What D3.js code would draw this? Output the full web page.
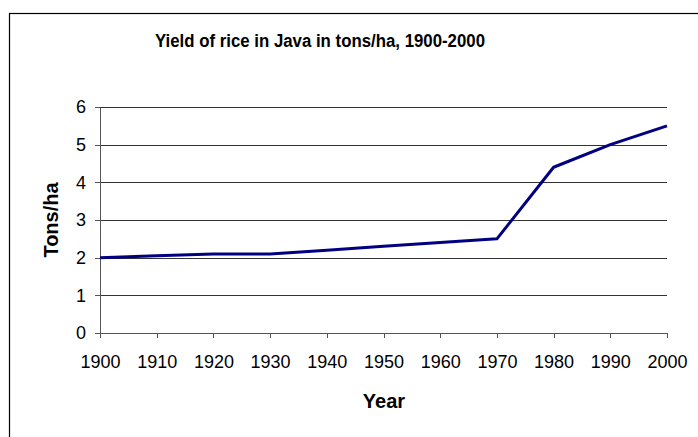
<!DOCTYPE html>
<html>
<head>
<meta charset="utf-8">
<script src="https://cdn.jsdelivr.net/npm/d3@7"></script>
<style>
  body { margin: 0; background: #fff; }
  svg { display: block; font-family: "Liberation Sans", Arial, sans-serif; }
  .grid line { stroke: #333; shape-rendering: crispEdges; }
  .axis path, .axis line { stroke: #555; shape-rendering: crispEdges; }
  .axis text { font-size: 18px; fill: #000; }
</style>
</head>
<body>
<div id="wrapper"></div>
<script>
const years = [1900, 1910, 1920, 1930, 1940, 1950, 1960, 1970, 1980, 1990, 2000]
const yields = [2.0, 2.05, 2.1, 2.1, 2.2, 2.3, 2.4, 2.5, 4.4, 5.0, 5.5]
const yTicks = [0, 1, 2, 3, 4, 5, 6]

const dataset = years.map((y, i) => ({ year: y, value: yields[i] }))
const xAccessor = d => d.year
const yAccessor = d => d.value

let dimensions = {
  width: 698,
  height: 437,
  margin: { top: 107, right: 31, bottom: 104, left: 100 }
}
dimensions.boundedWidth = dimensions.width - dimensions.margin.left - dimensions.margin.right
dimensions.boundedHeight = dimensions.height - dimensions.margin.top - dimensions.margin.bottom

const wrapper = d3.select("#wrapper")
  .append("svg")
    .attr("width", dimensions.width)
    .attr("height", dimensions.height)

// chart frame (runs off the right and bottom edges)
wrapper.append("rect")
  .attr("x", 9.5)
  .attr("y", 13.5)
  .attr("width", 720)
  .attr("height", 460)
  .attr("fill", "none")
  .attr("stroke", "#000")
  .attr("stroke-width", 1.2)

wrapper.append("text")
  .attr("x", 320)
  .attr("y", 47)
  .attr("text-anchor", "middle")
  .attr("textLength", 330)
  .attr("lengthAdjust", "spacingAndGlyphs")
  .style("font-size", "18px")
  .style("font-weight", "bold")
  .text("Yield of rice in Java in tons/ha, 1900-2000")

const bounds = wrapper.append("g")
  .attr("transform", `translate(${dimensions.margin.left}, ${dimensions.margin.top})`)

const xScale = d3.scaleLinear()
  .domain(d3.extent(years))
  .range([0, dimensions.boundedWidth])

const yScale = d3.scaleLinear()
  .domain([0, 6])
  .range([dimensions.boundedHeight, 0])

// gridlines
bounds.append("g")
  .attr("class", "grid")
  .selectAll("line")
  .data(yTicks.slice(1))
  .join("line")
    .attr("x1", 0)
    .attr("x2", dimensions.boundedWidth)
    .attr("y1", d => Math.round(yScale(d)) + 0.5)
    .attr("y2", d => Math.round(yScale(d)) + 0.5)

const xAxis = bounds.append("g")
  .attr("class", "axis")
  .attr("transform", `translate(0, ${dimensions.boundedHeight})`)
  .call(d3.axisBottom(xScale).tickValues(years).tickFormat(d3.format("d")).tickSize(5).tickSizeOuter(0).tickPadding(17))

const yAxis = bounds.append("g")
  .attr("class", "axis")
  .call(d3.axisLeft(yScale).tickValues(yTicks).tickFormat(d3.format("d")).tickSize(5).tickSizeOuter(0).tickPadding(9))

const line = d3.line()
  .x(d => xScale(xAccessor(d)))
  .y(d => yScale(yAccessor(d)))

bounds.append("path")
  .datum(dataset)
  .attr("d", line)
  .attr("fill", "none")
  .attr("stroke", "#000080")
  .attr("stroke-width", 3)
  .attr("stroke-linejoin", "round")

wrapper.append("text")
  .attr("x", 384)
  .attr("y", 408)
  .attr("text-anchor", "middle")
  .style("font-size", "20px")
  .style("font-weight", "bold")
  .text("Year")

wrapper.append("text")
  .attr("transform", "translate(57.5, 220) rotate(-90)")
  .attr("text-anchor", "middle")
  .style("font-size", "20px")
  .style("font-weight", "bold")
  .text("Tons/ha")
</script>
</body>
</html>
